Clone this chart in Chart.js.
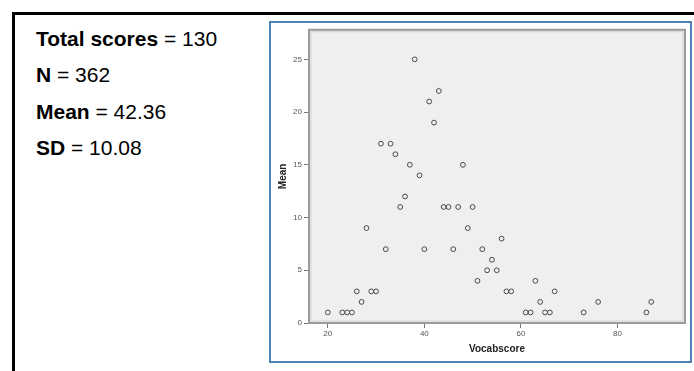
<!DOCTYPE html>
<html>
<head>
<meta charset="utf-8">
<script src="https://cdn.jsdelivr.net/npm/chart.js@4"></script>
<style>
  html, body { margin: 0; padding: 0; background: #fff; overflow: hidden; }
  body { width: 694px; height: 371px; position: relative; font-family: "Liberation Sans", Arial, sans-serif; }
  #frame { position: absolute; left: 12px; top: 12px; width: 720px; height: 400px;
           border-top: 3px solid #000; border-left: 3px solid #000; }
  #stats { position: absolute; left: 36px; top: 21px; font-size: 21px; line-height: 36.3px; color: #000; }
  #box { position: absolute; left: 269px; top: 21px; width: 419px; height: 338px;
         border: 2px solid #4f81bd; }
  #box canvas { position: absolute; left: 0; top: 0; }
</style>
</head>
<body>
<div id="frame"></div>
<div id="stats">
  <div><b>Total scores</b> = 130</div>
  <div><b>N</b> = 362</div>
  <div><b>Mean</b> = 42.36</div>
  <div><b>SD</b> = 10.08</div>
</div>
<div id="box"><canvas id="scatter" width="419" height="338"></canvas></div>
<script>
// values
var vocabScores = [20, 23, 24, 25, 26, 27, 28, 29, 30, 31, 32, 33, 34, 35, 36, 37,
                   38, 39, 40, 41, 42, 43, 44, 45, 46, 47, 48, 49, 50, 51, 52, 53,
                   54, 55, 56, 57, 58, 61, 62, 63, 64, 65, 66, 67, 73, 76, 86, 87];
var meanValues  = [1, 1, 1, 1, 3, 2, 9, 3, 3, 17, 7, 17, 16, 11, 12, 15,
                   25, 14, 7, 21, 19, 22, 11, 11, 7, 11, 15, 9, 11, 4, 7, 5,
                   6, 5, 8, 3, 3, 1, 1, 4, 2, 1, 1, 3, 1, 2, 1, 2];
var xTicks = [20, 40, 60, 80];
var yTicks = [0, 5, 10, 15, 20, 25];

var points = vocabScores.map(function (v, i) {
  return { x: v, y: meanValues[i] };
});

// grey plot background + frame like the SPSS output
var plotFrame = {
  id: 'plotFrame',
  beforeDraw: function (chart) {
    var a = chart.chartArea, ctx = chart.ctx;
    ctx.save();
    ctx.fillStyle = '#efefef';
    ctx.fillRect(a.left, a.top, a.right - a.left, a.bottom - a.top);
    ctx.restore();
  },
  afterDraw: function (chart) {
    var a = chart.chartArea, ctx = chart.ctx;
    ctx.save();
    ctx.strokeStyle = '#d2d2d2';
    ctx.lineWidth = 1;
    ctx.strokeRect(a.left + 2, a.top + 2, a.right - a.left - 4, a.bottom - a.top - 4);
    ctx.strokeStyle = '#9a9a9a';
    ctx.lineWidth = 2;
    ctx.strokeRect(a.left, a.top, a.right - a.left, a.bottom - a.top);
    ctx.restore();
  }
};

var tickFont = { family: 'Liberation Sans', size: 8 };

new Chart(document.getElementById('scatter').getContext('2d'), {
  type: 'scatter',
  data: {
    datasets: [{
      data: points,
      pointRadius: 2.4,
      pointBorderWidth: 1,
      pointBorderColor: '#4a4a4a',
      pointBackgroundColor: 'rgba(0,0,0,0)'
    }]
  },
  options: {
    responsive: false,
    animation: false,
    layout: { padding: { left: 0, top: 2, right: 2, bottom: 0 } },
    plugins: { legend: { display: false }, tooltip: { enabled: false } },
    scales: {
      x: {
        type: 'linear',
        min: 16.1,
        max: 94,
        afterBuildTicks: function (s) { s.ticks = xTicks.map(function (v) { return { value: v }; }); },
        afterFit: function (s) { s.height = 38; },
        grid: { drawOnChartArea: false, tickLength: 5, color: '#777' },
        border: { color: '#9a9a9a' },
        ticks: { font: tickFont, color: '#555', padding: 1, maxRotation: 0 },
        title: { display: true, text: 'Vocabscore', color: '#222',
                 font: { family: 'Liberation Sans', size: 10, weight: 'bold' },
                 padding: { top: 0, bottom: 6 } }
      },
      y: {
        min: 0,
        max: 27.8,
        afterBuildTicks: function (s) { s.ticks = yTicks.map(function (v) { return { value: v }; }); },
        afterFit: function (s) { s.width = 38; },
        grid: { drawOnChartArea: false, tickLength: 5, color: '#777' },
        border: { color: '#9a9a9a' },
        ticks: { font: tickFont, color: '#555', padding: 2 },
        title: { display: true, text: 'Mean', color: '#222',
                 font: { family: 'Liberation Sans', size: 10, weight: 'bold' },
                 padding: { top: 6, bottom: 0 } }
      }
    }
  },
  plugins: [plotFrame]
});
</script>
</body>
</html>
